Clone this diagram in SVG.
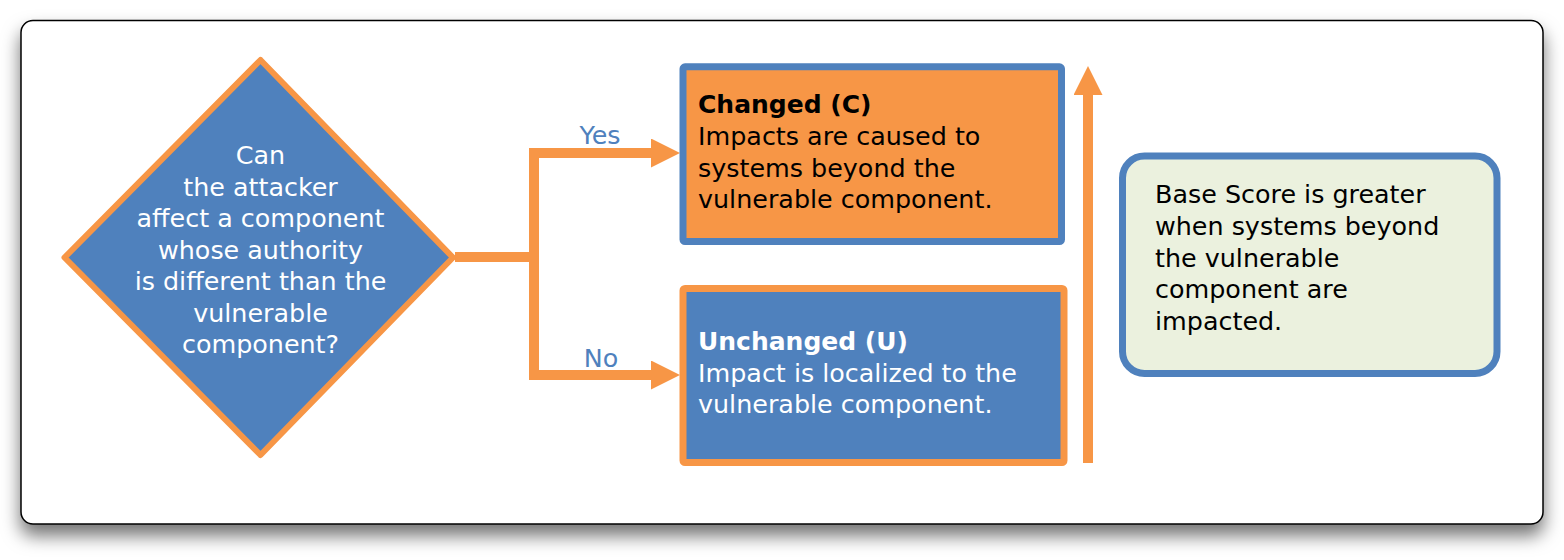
<svg xmlns="http://www.w3.org/2000/svg" width="1564" height="560" viewBox="0 0 1564 560">
<defs>
<filter id="shadow" x="-5%" y="-10%" width="110%" height="130%">
<feDropShadow dx="0" dy="11" stdDeviation="9" flood-color="#000" flood-opacity="0.55"/>
</filter>
<marker id="head" viewBox="0 0 29 29" refX="0" refY="14.5" markerWidth="29" markerHeight="29" markerUnits="userSpaceOnUse" orient="auto">
<path d="M0,0 L29,14.5 L0,29 Z" fill="#F79646"/>
</marker>
</defs>
<style>
text { font-family: "DejaVu Sans", "Liberation Sans", sans-serif; font-size: 25.4px; }
.w { fill: #ffffff; }
.k { fill: #000000; }
.b { fill: #4F81BD; }
.mid { text-anchor: middle; }
.bold { font-weight: bold; font-size: 25px; }
.conn { fill: none; stroke: #F79646; stroke-width: 10; stroke-linejoin: miter; stroke-linecap: butt; }
</style>
<rect id="frame" x="21" y="20.5" width="1522" height="503.5" rx="12" fill="#ffffff" stroke="#000000" stroke-width="1.5" filter="url(#shadow)"/>

<g id="connectors">
<path class="conn" d="M455,257 H534"/>
<path class="conn" d="M534,257 V153 H651" marker-end="url(#head)"/>
<path class="conn" d="M534,257 V375 H651" marker-end="url(#head)"/>
<path class="conn" d="M1088,463 V95" stroke-width="9.5" marker-end="url(#head)"/>
<text class="b mid" x="600" y="144">Yes</text>
<text class="b mid" x="601" y="367">No</text>
</g>

<g id="question">
<polygon points="260.5,60 453,257.5 260.5,455 64.5,257.5" fill="#4F81BD" stroke="#F79646" stroke-width="6" stroke-linejoin="round"/>
<text class="w mid" x="260.5" y="164">Can</text>
<text class="w mid" x="260.5" y="195.5">the attacker</text>
<text class="w mid" x="260.5" y="227">affect a component</text>
<text class="w mid" x="260.5" y="258.5">whose authority</text>
<text class="w mid" x="260.5" y="290">is different than the</text>
<text class="w mid" x="260.5" y="321.5">vulnerable</text>
<text class="w mid" x="260.5" y="353">component?</text>
</g>

<g id="changed">
<rect x="683" y="66.8" width="378.5" height="174.7" rx="2" fill="#F79646" stroke="#4F81BD" stroke-width="7"/>
<text class="k bold" x="698" y="113">Changed (C)</text>
<text class="k" x="698" y="145">Impacts are caused to</text>
<text class="k" x="698" y="176.5">systems beyond the</text>
<text class="k" x="698" y="207.5">vulnerable component.</text>
</g>

<g id="unchanged">
<rect x="683" y="288.5" width="381" height="174" rx="2" fill="#4F81BD" stroke="#F79646" stroke-width="7"/>
<text class="w bold" x="698" y="350">Unchanged (U)</text>
<text class="w" x="698" y="381.5">Impact is localized to the</text>
<text class="w" x="698" y="413">vulnerable component.</text>
</g>

<g id="basescore">
<rect x="1122.5" y="156" width="374.5" height="217.5" rx="22" fill="#EBF1DE" stroke="#4F81BD" stroke-width="7"/>
<text class="k" x="1155" y="203">Base Score is greater</text>
<text class="k" x="1155" y="235">when systems beyond</text>
<text class="k" x="1155" y="266.5">the vulnerable</text>
<text class="k" x="1155" y="298">component are</text>
<text class="k" x="1155" y="329.5">impacted.</text>
</g>
</svg>
